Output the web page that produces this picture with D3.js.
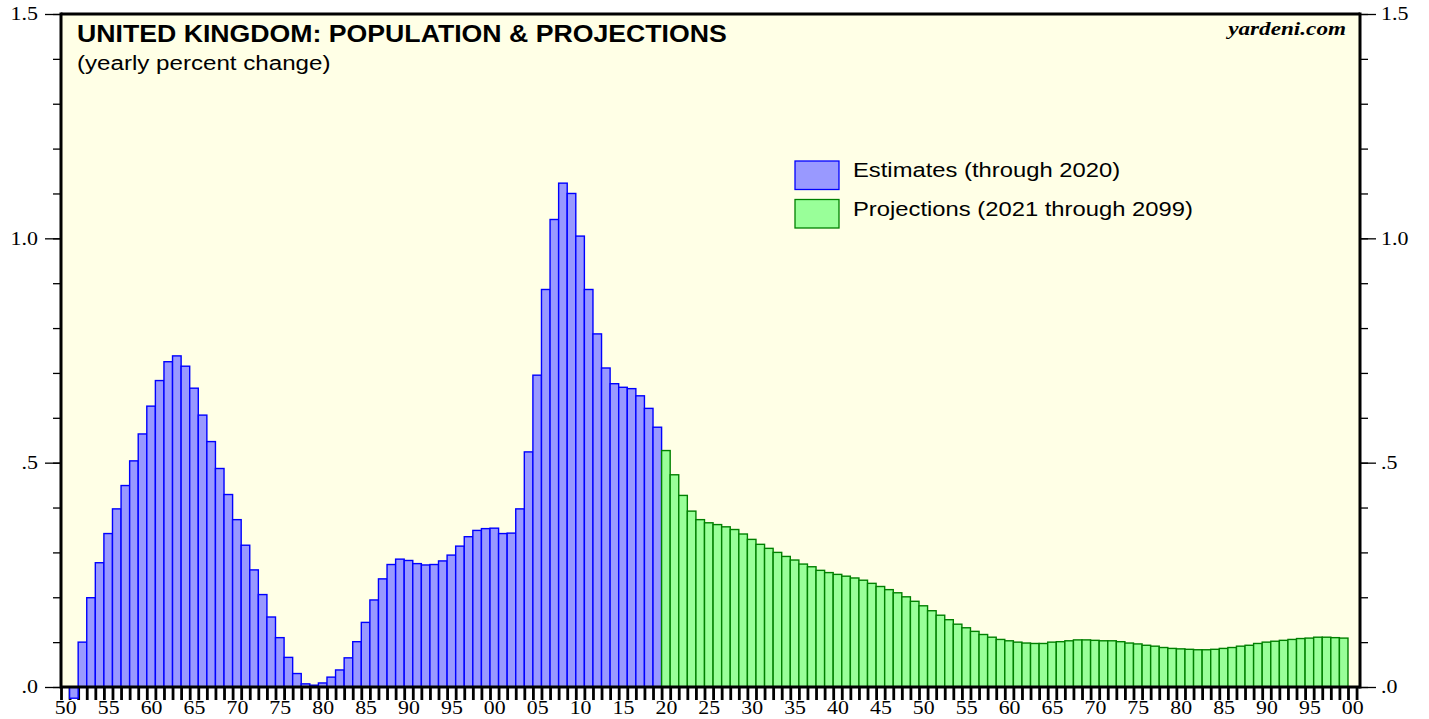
<!DOCTYPE html>
<html>
<head>
<meta charset="utf-8">
<script src="https://cdn.jsdelivr.net/npm/d3@7"></script>
<style>
  body { margin: 0; background: #fff; }
  svg { display: block; }
</style>
</head>
<body>
<figure id="chart" style="margin:0"></figure>
<script>
// yearly percent change, each bar covers the year ending at its label year
const estYears = d3.range(1951, 2021);
const estValues = [
  0.000, -0.025, 0.100, 0.199, 0.277, 0.342, 0.397, 0.449, 0.504, 0.564,
  0.626, 0.683, 0.725, 0.738, 0.715, 0.666, 0.606, 0.547, 0.487, 0.429,
  0.373, 0.316, 0.261, 0.206, 0.156, 0.110, 0.066, 0.030, 0.007, 0.004,
  0.009, 0.022, 0.038, 0.065, 0.101, 0.144, 0.194, 0.241, 0.273, 0.285,
  0.282, 0.275, 0.272, 0.273, 0.281, 0.294, 0.314, 0.335, 0.349, 0.353,
  0.354, 0.342, 0.343, 0.397, 0.524, 0.695, 0.886, 1.042, 1.123, 1.100,
  1.005, 0.886, 0.787, 0.711, 0.676, 0.668, 0.665, 0.649, 0.621, 0.579
];

const projYears = d3.range(2021, 2101);
const projValues = [
  0.527, 0.473, 0.427, 0.392, 0.373, 0.366, 0.362, 0.357, 0.351, 0.341,
  0.329, 0.318, 0.309, 0.300, 0.291, 0.283, 0.274, 0.268, 0.260, 0.255,
  0.251, 0.247, 0.243, 0.238, 0.231, 0.224, 0.217, 0.210, 0.201, 0.191,
  0.181, 0.170, 0.160, 0.150, 0.140, 0.132, 0.124, 0.117, 0.111, 0.106,
  0.103, 0.100, 0.098, 0.097, 0.097, 0.100, 0.101, 0.103, 0.105, 0.105,
  0.104, 0.103, 0.103, 0.101, 0.098, 0.096, 0.093, 0.091, 0.088, 0.086,
  0.085, 0.084, 0.083, 0.083, 0.084, 0.086, 0.088, 0.091, 0.093, 0.097,
  0.100, 0.102, 0.104, 0.106, 0.108, 0.109, 0.111, 0.111, 0.110, 0.109
];

const labelYears = d3.range(1950, 2101, 5);
const yMajor = [0, 0.5, 1.0, 1.5];
const yMinor = d3.range(0, 1.51, 0.1);
const yLabels = [".0", ".5", "1.0", "1.5"];

const legendItems = ["Estimates (through 2020)", "Projections (2021 through 2099)"];

const W = 1429, H = 719;
const plotL = 61, plotR = 1360, plotT = 14, zeroY = 687;
const SERIF = "Liberation Serif, Times New Roman, serif";
const SANS = "Liberation Sans, Arial, sans-serif";
const SX = 1.22; // the original's lettering is a bit wider than it is tall

const svg = d3.select("#chart").append("svg")
  .attr("width", W).attr("height", H);

const x = d3.scaleLinear().domain([1950, 2101.4]).range([plotL, plotR]);
const y = d3.scaleLinear().domain([0, 1.5]).range([zeroY, plotT]);

// plot background
svg.append("rect")
  .attr("x", plotL).attr("y", plotT)
  .attr("width", plotR - plotL).attr("height", zeroY - plotT)
  .attr("fill", "#ffffe6");

// year ticks
const xTicks = svg.append("g")
  .attr("transform", "translate(0," + zeroY + ")")
  .call(d3.axisBottom(x).tickValues(d3.range(1950, 2102)).tickSize(13).tickFormat(""));
xTicks.select(".domain").remove();
xTicks.selectAll("line").attr("stroke", "#000").attr("stroke-width", 2.8);

// year labels, centred in each year slot
const xLab = svg.append("g")
  .attr("transform", "translate(0," + zeroY + ")")
  .call(d3.axisBottom(x).tickValues(labelYears.map(d => d + 0.5)).tickSize(0)
    .tickFormat(d => String(Math.floor(d) % 100).padStart(2, "0")));
xLab.select(".domain").remove();
xLab.selectAll("text")
  .attr("y", 27).attr("dy", 0)
  .attr("transform", "scale(1.15,1)")
  .attr("fill", "#000").attr("font-size", 19)
  .attr("font-family", SERIF);

// bars
function drawBars(years, values, fill, stroke) {
  svg.append("g").selectAll("rect")
    .data(years.map((yr, i) => ({ yr: yr, v: values[i] })))
    .enter().append("rect")
    .attr("x", d => x(d.yr - 1))
    .attr("width", d => x(d.yr) - x(d.yr - 1))
    .attr("y", d => y(Math.max(0, d.v)))
    .attr("height", d => Math.abs(y(d.v) - y(0)))
    .attr("fill", fill)
    .attr("stroke", stroke)
    .attr("stroke-width", 1.4);
}
drawBars(estYears, estValues, "#9999ff", "#0000ff");
drawBars(projYears, projValues, "#99ff99", "#008000");

// y axes: minor + major on both sides
function yAxis(gen, side, isLeft) {
  const minor = svg.append("g")
    .attr("transform", "translate(" + side + ",0)")
    .call(gen(y).tickValues(yMinor).tickSize(8).tickFormat(""));
  minor.select(".domain").remove();
  minor.selectAll("line").attr("stroke", "#000").attr("stroke-width", 1.3);

  const major = svg.append("g")
    .attr("transform", "translate(" + side + ",0)")
    .call(gen(y).tickValues(yMajor).tickSize(16).tickPadding(isLeft ? 7 : 5)
      .tickFormat((d, i) => yLabels[i]));
  major.select(".domain").remove();
  major.selectAll("line").attr("stroke", "#000").attr("stroke-width", 1.3);
  major.selectAll("text")
    .attr("x", (isLeft ? -23 : 21) / 1.22)
    .attr("transform", "scale(1.22,1)")
    .attr("fill", "#000").attr("font-size", 18)
    .attr("font-family", SERIF);
}
yAxis(d3.axisLeft, plotL, true);
yAxis(d3.axisRight, plotR, false);

// frame
const frame = svg.append("g").attr("stroke", "#000").attr("stroke-width", 3);
frame.append("line").attr("x1", plotL).attr("x2", plotR).attr("y1", plotT).attr("y2", plotT);
frame.append("line").attr("x1", plotL).attr("x2", plotL).attr("y1", plotT - 1.5).attr("y2", zeroY + 1.5);
frame.append("line").attr("x1", plotR).attr("x2", plotR).attr("y1", plotT - 1.5).attr("y2", zeroY + 1.5);
frame.append("line").attr("x1", plotL).attr("x2", plotR).attr("y1", zeroY).attr("y2", zeroY);

// stretched text helper
function label(px, py, sx, txt, size, font) {
  return svg.append("text")
    .attr("transform", "translate(" + px + "," + py + ") scale(" + sx + ",1)")
    .attr("font-family", font).attr("font-size", size)
    .attr("fill", "#000")
    .text(txt);
}

// titles
label(77, 42, 1.16, "UNITED KINGDOM: POPULATION & PROJECTIONS", 23, SANS).attr("font-weight", "bold");
label(77, 70, 1.15, "(yearly percent change)", 21, SANS);
label(1346, 35, SX, "yardeni.com", 19, SERIF)
  .attr("text-anchor", "end").attr("font-weight", "bold").attr("font-style", "italic");

// legend
const legendColors = [["#9999ff", "#0000ff"], ["#99ff99", "#008000"]];
legendItems.forEach((t, i) => {
  svg.append("rect")
    .attr("x", 795).attr("y", 161 + i * 38.5)
    .attr("width", 44).attr("height", 28.5)
    .attr("fill", legendColors[i][0]).attr("stroke", legendColors[i][1]).attr("stroke-width", 1.3);
  label(853, 177 + i * 38.5, 1.22, t, 19.5, SANS);
});
</script>
</body>
</html>
